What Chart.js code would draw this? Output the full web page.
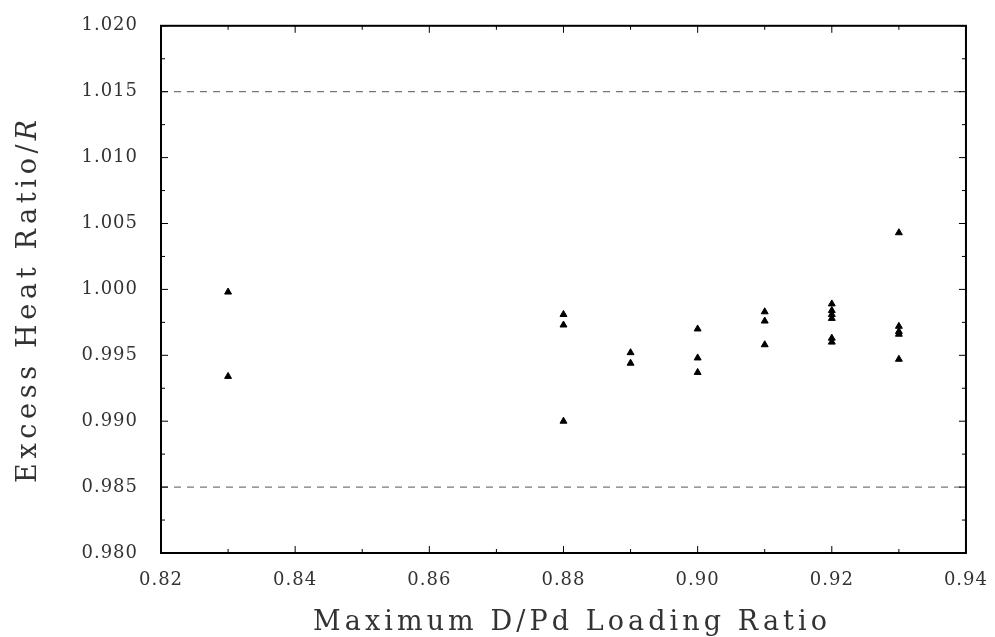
<!DOCTYPE html>
<html lang="en">
<head>
  <meta charset="UTF-8">
  <title>Excess Heat Ratio</title>
  <style>
    body { margin: 0; padding: 0; background: #fff; }
    .chart-container { width: 995px; height: 637px; }
  </style>
</head>
<body>
  <div class="chart-container">
    <canvas id="heatChart"></canvas>
  </div>

  <script src="https://cdn.jsdelivr.net/npm/chart.js"></script>
  <script>
    // Loading ratio (x) and excess heat ratio (y) for each run
    const loading = [0.83, 0.83,
                     0.88, 0.88, 0.88,
                     0.89, 0.89,
                     0.90, 0.90, 0.90,
                     0.91, 0.91, 0.91,
                     0.92, 0.92, 0.92, 0.92, 0.92, 0.92,
                     0.93, 0.93, 0.93, 0.93, 0.93];
    const heatRatio = [0.9998, 0.9934,
                       0.9981, 0.9973, 0.9900,
                       0.9952, 0.9944,
                       0.9970, 0.9948, 0.9937,
                       0.9983, 0.9976, 0.9958,
                       0.9989, 0.9984, 0.9981, 0.9978, 0.9963, 0.9960,
                       1.0043, 0.9972, 0.9968, 0.9966, 0.9947];
    const limits = [1.015, 0.985];
    const xTicks = [0.82, 0.84, 0.86, 0.88, 0.90, 0.92, 0.94];
    const xMinor = [0.83, 0.85, 0.87, 0.89, 0.91, 0.93];
    const yTicks = [0.980, 0.985, 0.990, 0.995, 1.000, 1.005, 1.010, 1.015, 1.020];
    const yMinor = [0.9825, 0.9875, 0.9925, 0.9975, 1.0025, 1.0075, 1.0125, 1.0175];

    const points = loading.map((x, i) => ({ x: x, y: heatRatio[i] }));
    const limitSets = limits.map(v => ({
      type: 'line',
      data: [{ x: 0.82, y: v }, { x: 0.94, y: v }],
      borderColor: '#555',
      borderWidth: 1,
      borderDash: [7, 6],
      pointRadius: 0,
      fill: false
    }));

    const serif = '"DejaVu Serif", "Liberation Serif", serif';

    // draw text from x with spacing so it spans the given width
    function spacedText(c, text, x, y, width) {
      c.letterSpacing = '0px';
      const natural = c.measureText(text).width;
      const sp = (width - natural) / (text.length - 1);
      c.letterSpacing = sp + 'px';
      c.textAlign = 'left';
      c.fillText(text, x, y);
      c.letterSpacing = '0px';
    }

    const frame = {
      id: 'frame',
      beforeDraw(chart) {
        chart.ctx.letterSpacing = '1px';
      },
      afterDraw(chart) {
        const c = chart.ctx, a = chart.chartArea;
        const xs = chart.scales.x, ys = chart.scales.y;
        c.save();
        c.letterSpacing = '0px';
        c.strokeStyle = '#000';
        c.lineWidth = 2;
        c.strokeRect(a.left, a.top, a.right - a.left, a.bottom - a.top);
        c.lineWidth = 1;
        const tickX = (list, len) => list.forEach(v => {
          const p = xs.getPixelForValue(v);
          c.beginPath();
          c.moveTo(p, a.bottom); c.lineTo(p, a.bottom - len);
          c.moveTo(p, a.top); c.lineTo(p, a.top + len);
          c.stroke();
        });
        const tickY = (list, len) => list.forEach(v => {
          const p = ys.getPixelForValue(v);
          c.beginPath();
          c.moveTo(a.left, p); c.lineTo(a.left + len, p);
          c.moveTo(a.right, p); c.lineTo(a.right - len, p);
          c.stroke();
        });
        tickX(xTicks, 7); tickX(xMinor, 4);
        tickY(yTicks, 7); tickY(yMinor, 4);

        c.fillStyle = '#333';
        c.textBaseline = 'alphabetic';
        // x title
        c.font = '27px ' + serif;
        spacedText(c, 'Maximum D/Pd Loading Ratio', 313, 630, 514);

        // y title with italic R
        c.translate(36, 0);
        c.rotate(-Math.PI / 2);
        c.font = 'italic 27px ' + serif;
        const wR = c.measureText('R').width;
        const mainW = 363 - wR - 4;
        c.font = '27px ' + serif;
        spacedText(c, 'Excess Heat Ratio/', -483, 0, mainW);
        c.font = 'italic 27px ' + serif;
        c.fillText('R', -483 + mainW + 4, 0);
        c.restore();
        chart.ctx.letterSpacing = '0px';
      }
    };

    const ctx = document.getElementById('heatChart').getContext('2d');
    new Chart(ctx, {
      type: 'scatter',
      data: {
        datasets: [{
          data: points,
          pointStyle: 'triangle',
          pointRadius: 4,
          backgroundColor: '#000',
          borderColor: '#000',
          borderWidth: 1
        }].concat(limitSets)
      },
      options: {
        responsive: true,
        maintainAspectRatio: false,
        animation: false,
        layout: { padding: { top: 22, right: 19, left: 0, bottom: 0 } },
        scales: {
          x: {
            type: 'linear',
            min: 0.82, max: 0.94,
            afterBuildTicks: s => { s.ticks = xTicks.map(v => ({ value: v })); },
            afterFit: s => { s.height = 84; },
            grid: { display: false },
            border: { display: false },
            ticks: {
              color: '#333',
              padding: 9,
              maxRotation: 0,
              font: { family: serif, size: 18 },
              callback: v => v.toFixed(2)
            }
          },
          y: {
            min: 0.98, max: 1.02,
            afterBuildTicks: s => { s.ticks = yTicks.map(v => ({ value: v })); },
            afterFit: s => { s.width = 161; },
            grid: { display: false },
            border: { display: false },
            ticks: {
              color: '#333',
              padding: 15,
              font: { family: serif, size: 18 },
              callback: v => v.toFixed(3)
            }
          }
        },
        plugins: {
          legend: { display: false },
          tooltip: { enabled: false }
        }
      },
      plugins: [frame]
    });
  </script>
</body>
</html>
